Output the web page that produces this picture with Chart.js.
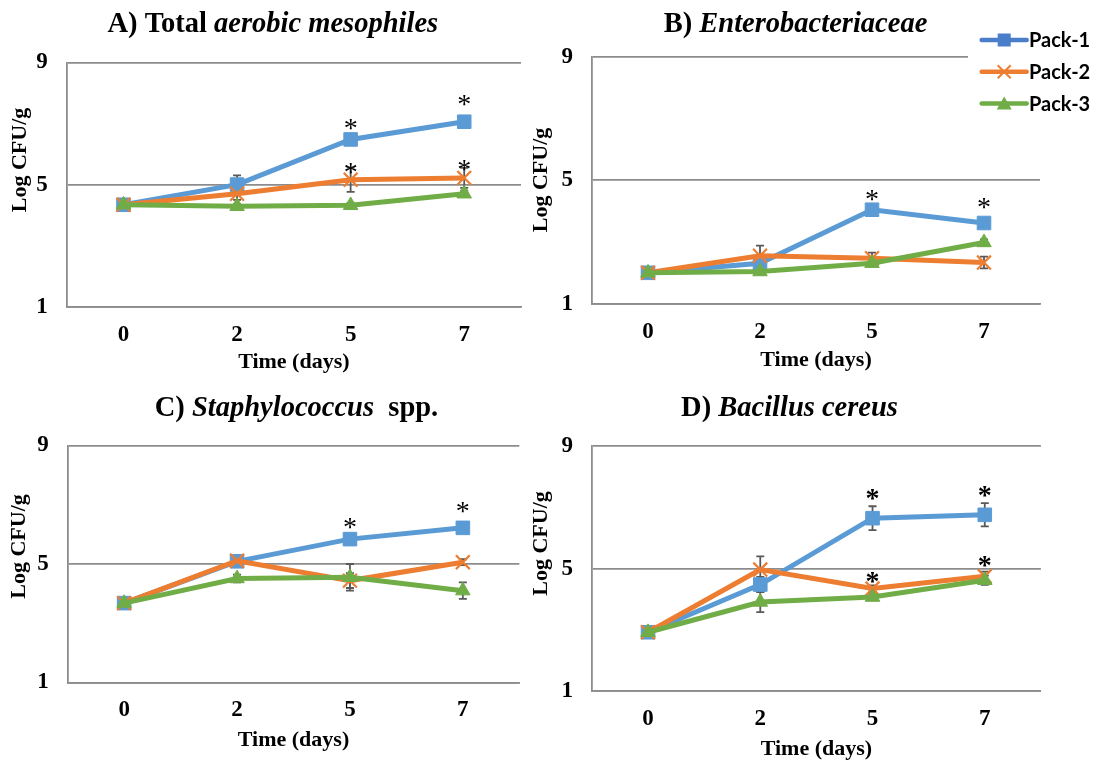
<!DOCTYPE html>
<html>
<head>
<meta charset="utf-8">
<script src="https://cdn.jsdelivr.net/npm/chart.js@4.4.1/dist/chart.umd.min.js"></script>
<style>
  html, body { margin: 0; padding: 0; background: #ffffff; }
  #wrap { position: relative; width: 1097px; height: 765px; overflow: hidden; background: #ffffff; }
  canvas { position: absolute; }
</style>
</head>
<body>
<div id="wrap">
  <canvas id="cA" width="540" height="380" style="left:0;top:0"></canvas>
  <canvas id="cC" width="540" height="385" style="left:0;top:380px"></canvas>
  <canvas id="cB" width="572" height="380" style="left:525px;top:0"></canvas>
  <canvas id="cD" width="572" height="385" style="left:525px;top:380px"></canvas>
</div>
<script>
// ---- data -------------------------------------------------------------
const days = ['0', '2', '5', '7'];
const packNames = ['Pack-1', 'Pack-2', 'Pack-3'];
const yTickValues = [1, 5, 9];

// A) Total aerobic mesophiles (log CFU/g)
const aerobicPack1 = [4.34, 5.00, 6.48, 7.06];
const aerobicPack2 = [4.34, 4.70, 5.16, 5.22];
const aerobicPack3 = [4.34, 4.29, 4.32, 4.70];
const aerobicSd1 = [0.05, 0.30, 0.10, 0.10];
const aerobicSd2 = [0.05, 0.20, 0.40, 0.33];
const aerobicSd3 = [0.05, 0.08, 0.08, 0.10];
const aerobicStar1 = [null, null, 7.01, 7.77];
const aerobicStar2 = [null, null, 5.56, 5.67];

// B) Enterobacteriaceae
const enteroPack1 = [2.01, 2.32, 4.05, 3.62];
const enteroPack2 = [2.01, 2.56, 2.48, 2.34];
const enteroPack3 = [2.01, 2.05, 2.32, 2.99];
const enteroSd1 = [0.05, 0.15, 0.12, 0.10];
const enteroSd2 = [0.05, 0.33, 0.18, 0.19];
const enteroSd3 = [0.05, 0.08, 0.10, 0.10];
const enteroStar1 = [null, null, 4.54, 4.27];

// C) Staphylococcus spp.
const staphPack1 = [3.68, 5.09, 5.84, 6.22];
const staphPack2 = [3.68, 5.11, 4.44, 5.06];
const staphPack3 = [3.68, 4.51, 4.55, 4.10];
const staphSd1 = [0.05, 0.10, 0.10, 0.10];
const staphSd2 = [0.05, 0.10, 0.25, 0.10];
const staphSd3 = [0.05, 0.13, 0.45, 0.28];
const staphStar1 = [null, null, 6.39, 6.95];

// D) Bacillus cereus
const bacPack1 = [2.92, 4.48, 6.65, 6.76];
const bacPack2 = [2.92, 4.97, 4.35, 4.75];
const bacPack3 = [2.92, 3.91, 4.07, 4.62];
const bacSd1 = [0.05, 0.25, 0.39, 0.38];
const bacSd2 = [0.05, 0.43, 0.10, 0.15];
const bacSd3 = [0.05, 0.33, 0.10, 0.15];
const bacStar1 = [null, null, 7.45, 7.56];
const bacStar2 = [null, null, 4.73, 5.27];

// ---- styling ----------------------------------------------------------
const SERIF = '"Liberation Serif", "Times New Roman", serif';
const SANS = 'Lato, "Open Sans", sans-serif';
const LINE_COLORS = ['#5B9BD5', '#ED7D31', '#70AD47'];
const KEY_COLORS = ['#4A7ECB', '#ED7D31', '#70AD47'];
const POINT_STYLES = ['rect', 'crossRot', 'triangle'];
const POINT_RADII = [9.6, 9.8, 8.4];
const GRID_COLOR = '#8c8c8c';
const GRID_WIDTH = 1.8;

// error bars drawn beneath the lines
const errorBars = {
  id: 'errorBars',
  beforeDatasetsDraw(chart) {
    const ctx = chart.ctx, ys = chart.scales.y;
    ctx.save();
    ctx.strokeStyle = '#595959';
    ctx.lineWidth = 1.8;
    chart.data.datasets.forEach((ds, di) => {
      const meta = chart.getDatasetMeta(di);
      (ds.sd || []).forEach((e, i) => {
        if (!e) return;
        const x = meta.data[i].x;
        const top = ys.getPixelForValue(ds.data[i] + e);
        const bot = ys.getPixelForValue(ds.data[i] - e);
        ctx.beginPath();
        ctx.moveTo(x, top); ctx.lineTo(x, bot);
        ctx.moveTo(x - 4, top); ctx.lineTo(x + 4, top);
        ctx.moveTo(x - 4, bot); ctx.lineTo(x + 4, bot);
        ctx.stroke();
      });
    });
    ctx.restore();
  }
};

// significance asterisks
const asterisks = {
  id: 'asterisks',
  afterDatasetsDraw(chart, args, opts) {
    const ctx = chart.ctx, ys = chart.scales.y;
    const size = 28;
    ctx.save();
    ctx.fillStyle = '#000';
    ctx.textAlign = 'center';
    ctx.textBaseline = 'alphabetic';
    ctx.font = (opts.bold ? 'bold ' : '') + size + 'px ' + SERIF;
    chart.data.datasets.forEach((ds, di) => {
      const meta = chart.getDatasetMeta(di);
      (ds.star || []).forEach((v, i) => {
        if (v == null) return;
        ctx.fillText('*', meta.data[i].x, ys.getPixelForValue(v) + 0.48 * size);
      });
    });
    ctx.restore();
  }
};

function drawRich(ctx, parts, cx, cy, size) {
  const fonts = parts.map(p => (p.it ? 'italic ' : '') + 'bold ' + size + 'px ' + SERIF);
  let w = 0;
  parts.forEach((p, k) => { ctx.font = fonts[k]; w += ctx.measureText(p.t).width; });
  let x = cx - w / 2;
  ctx.textAlign = 'left';
  parts.forEach((p, k) => { ctx.font = fonts[k]; ctx.fillText(p.t, x, cy); x += ctx.measureText(p.t).width; });
}

// panel title and axis titles
const panelText = {
  id: 'panelText',
  afterDraw(chart, args, o) {
    const ctx = chart.ctx, ca = chart.chartArea;
    ctx.save();
    ctx.fillStyle = '#000';
    ctx.textBaseline = 'middle';
    drawRich(ctx, o.title, o.titleX, o.titleY, 28.5);
    ctx.font = 'bold 22px ' + SERIF;
    ctx.textAlign = 'center';
    ctx.fillText('Time (days)', (ca.left + ca.right) / 2, o.xTitleY);
    ctx.translate(o.yTitleX, o.yTitleY);
    ctx.rotate(-Math.PI / 2);
    ctx.fillText('Log CFU/g', 0, 0);
    ctx.restore();
  }
};

function drawMarker(ctx, style, x, y, color) {
  ctx.fillStyle = color; ctx.strokeStyle = color;
  if (style === 'rect') {
    ctx.fillRect(x - 6.5, y - 6.5, 13, 13);
  } else if (style === 'crossRot') {
    ctx.lineWidth = 2;
    ctx.beginPath();
    ctx.moveTo(x - 6.5, y - 6.5); ctx.lineTo(x + 6.5, y + 6.5);
    ctx.moveTo(x - 6.5, y + 6.5); ctx.lineTo(x + 6.5, y - 6.5);
    ctx.stroke();
  } else {
    ctx.beginPath();
    ctx.moveTo(x, y - 7); ctx.lineTo(x + 7.5, y + 6); ctx.lineTo(x - 7.5, y + 6);
    ctx.closePath(); ctx.fill();
  }
}

// series key, placed over the top-right corner of panel B
const seriesKey = {
  id: 'seriesKey',
  afterDraw(chart, args, o) {
    if (!o.show) return;
    const ctx = chart.ctx;
    ctx.save();
    ctx.fillStyle = '#fff';
    ctx.fillRect(o.boxX, o.boxY, chart.width - o.boxX, o.boxH);
    chart.data.datasets.forEach((ds, i) => {
      const y = o.rowY + i * o.rowGap;
      ctx.strokeStyle = KEY_COLORS[i];
      ctx.lineWidth = 4.5;
      ctx.lineCap = 'round';
      ctx.beginPath();
      ctx.moveTo(o.lineX, y); ctx.lineTo(o.lineX + o.lineW, y);
      ctx.stroke();
      ctx.lineCap = 'butt';
      drawMarker(ctx, POINT_STYLES[i], o.lineX + o.lineW / 2, y, KEY_COLORS[i]);
      ctx.fillStyle = '#000';
      ctx.font = 'bold 20px ' + SANS;
      ctx.textAlign = 'left';
      ctx.textBaseline = 'middle';
      ctx.fillText(ds.label, o.textX, y + 1);
    });
    ctx.restore();
  }
};

function makeDatasets(values, sds, stars) {
  return values.map((v, i) => ({
    label: packNames[i],
    data: v,
    sd: sds[i],
    star: stars[i],
    borderColor: LINE_COLORS[i],
    backgroundColor: LINE_COLORS[i],
    borderWidth: 5,
    pointStyle: POINT_STYLES[i],
    pointRadius: POINT_RADII[i],
    pointBackgroundColor: LINE_COLORS[i],
    pointBorderColor: LINE_COLORS[i],
    pointBorderWidth: i === 1 ? 2.2 : 1,
    tension: 0,
    order: 3 - i
  }));
}

function makePanel(id, p) {
  new Chart(document.getElementById(id), {
    type: 'line',
    data: { labels: days, datasets: makeDatasets(p.values, p.sds, p.stars) },
    options: {
      responsive: false,
      animation: false,
      events: [],
      layout: { padding: { top: p.top, right: p.right, left: 0, bottom: 0 } },
      plugins: {
        legend: { display: false },
        tooltip: { enabled: false },
        asterisks: { bold: !!p.boldStars },
        panelText: {
          title: p.title, titleX: p.titleX, titleY: p.titleY,
          xTitleY: p.xTitleY, yTitleX: p.yTitleX, yTitleY: p.yTitleY
        },
        seriesKey: p.key || { show: false }
      },
      scales: {
        x: {
          type: 'category',
          offset: true,
          grid: { display: false, drawTicks: false },
          border: { display: true, color: GRID_COLOR, width: GRID_WIDTH },
          ticks: {
            color: '#000', padding: p.xPad, maxRotation: 0, autoSkip: false,
            font: { family: SERIF, size: 23, weight: 'bold' }
          },
          afterFit(s) { s.height = p.bottom; }
        },
        y: {
          min: yTickValues[0],
          max: yTickValues[yTickValues.length - 1],
          afterBuildTicks(s) { s.ticks = yTickValues.map(v => ({ value: v })); },
          grid: { color: GRID_COLOR, lineWidth: GRID_WIDTH, drawTicks: false },
          border: { display: true, color: GRID_COLOR, width: GRID_WIDTH },
          ticks: {
            color: '#000', padding: 19,
            font: { family: SERIF, size: 23, weight: 'bold' }
          },
          afterFit(s) { s.width = p.left; }
        }
      }
    },
    plugins: [errorBars, asterisks, panelText, seriesKey]
  });
}

makePanel('cA', {
  values: [aerobicPack1, aerobicPack2, aerobicPack3],
  sds: [aerobicSd1, aerobicSd2, aerobicSd3],
  stars: [aerobicStar1, aerobicStar2, []],
  left: 66.7, right: 19, top: 62.5, bottom: 73.3, xPad: 14.5,
  title: [{ t: 'A) Total ' }, { t: 'aerobic mesophiles', it: true }],
  titleX: 272.8, titleY: 25, xTitleY: 362, yTitleX: 20.4, yTitleY: 160
});

makePanel('cB', {
  values: [enteroPack1, enteroPack2, enteroPack3],
  sds: [enteroSd1, enteroSd2, enteroSd3],
  stars: [enteroStar1, [], []],
  left: 67, right: 57, top: 56.7, bottom: 76, xPad: 14,
  title: [{ t: 'B) ' }, { t: 'Enterobacteriaceae', it: true }],
  titleX: 270.5, titleY: 25, xTitleY: 360, yTitleX: 16.4, yTitleY: 180,
  key: { show: true, boxX: 443, boxY: 22, boxH: 98, lineX: 456.7, lineW: 45, textX: 504, rowY: 40, rowGap: 31.7 }
});

makePanel('cC', {
  values: [staphPack1, staphPack2, staphPack3],
  sds: [staphSd1, staphSd2, staphSd3],
  stars: [staphStar1, [], []],
  left: 67.7, right: 20.7, top: 65.5, bottom: 82.5, xPad: 13.8,
  title: [{ t: 'C) ' }, { t: 'Staphylococcus', it: true }, { t: '  spp.' }],
  titleX: 296.5, titleY: 28.3, xTitleY: 360, yTitleX: 19.4, yTitleY: 166.5
});

makePanel('cD', {
  values: [bacPack1, bacPack2, bacPack3],
  sds: [bacSd1, bacSd2, bacSd3],
  stars: [bacStar1, bacStar2, []],
  left: 66.9, right: 56.1, top: 66.3, bottom: 74, xPad: 14.6, boldStars: true,
  title: [{ t: 'D) ' }, { t: 'Bacillus cereus', it: true }],
  titleX: 264.5, titleY: 29, xTitleY: 369, yTitleX: 16.4, yTitleY: 163.5
});
</script>
</body>
</html>
